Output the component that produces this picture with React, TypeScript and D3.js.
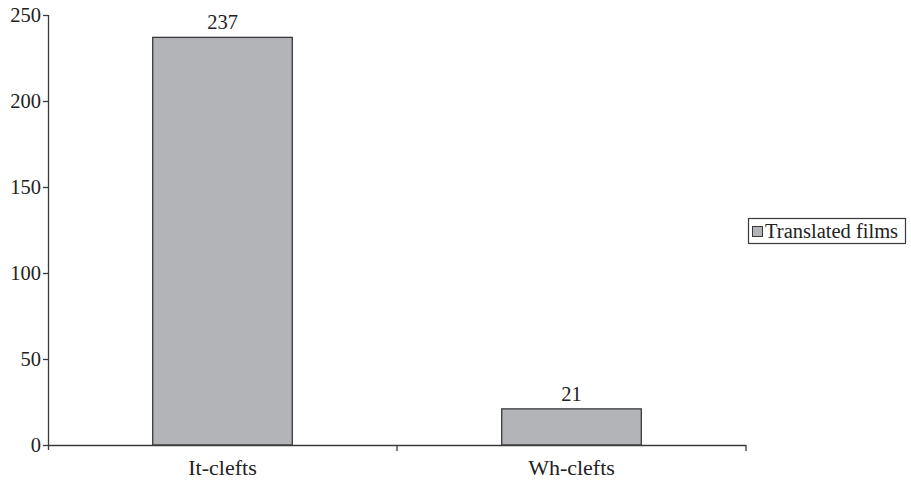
import React from "react";
import * as d3 from "d3";

const categories = ["It-clefts", "Wh-clefts"];
const values = [237, 21];
const seriesName = "Translated films";
const yTicks = [0, 50, 100, 150, 200, 250];

const W = 911;
const H = 484;
const FONT = "'Liberation Serif', 'Times New Roman', serif";
const FILL = "#b3b4b8";
const INK = "#3a3a3a";

export default function App() {
  const x = d3.scaleBand<string>().domain(categories).range([48, 746]);
  const y = d3.scaleLinear().domain([0, 250]).range([445, 15]);
  const barW = x.bandwidth() * 0.4;

  return (
    <svg
      width={W}
      height={H}
      style={{ position: "absolute", left: 0, top: 0, background: "#fff" }}
      fontFamily={FONT}
    >
      {/* y axis */}
      <line x1={48.5} x2={48.5} y1={y(250)} y2={y(0) + 5} stroke={INK} strokeWidth={1.3} />
      {yTicks.map((t) => (
        <g key={t}>
          <line x1={43} x2={48.5} y1={y(t) + 0.5} y2={y(t) + 0.5} stroke={INK} strokeWidth={1.3} />
          <text x={41} y={y(t)} dy="0.35em" textAnchor="end" fontSize={20.5} fill="#222">
            {t}
          </text>
        </g>
      ))}

      {/* bars */}
      {categories.map((c, i) => {
        const cx = (x(c) ?? 0) + x.bandwidth() / 2;
        return (
          <g key={c}>
            <rect
              x={cx - barW / 2}
              y={y(values[i])}
              width={barW}
              height={y(0) - y(values[i])}
              fill={FILL}
              stroke={INK}
              strokeWidth={1.3}
            />
            <text x={cx} y={y(values[i]) - 8} textAnchor="middle" fontSize={20.5} fill="#222">
              {values[i]}
            </text>
            <text x={cx} y={475} textAnchor="middle" fontSize={22} fill="#222">
              {c}
            </text>
          </g>
        );
      })}

      {/* x axis */}
      <line x1={48} x2={746} y1={y(0) + 0.5} y2={y(0) + 0.5} stroke={INK} strokeWidth={1.3} />
      {categories.map((c) => (
        <line
          key={c}
          x1={(x(c) ?? 0) + x.bandwidth()}
          x2={(x(c) ?? 0) + x.bandwidth()}
          y1={y(0)}
          y2={y(0) + 6}
          stroke={INK}
          strokeWidth={1.3}
        />
      ))}

      {/* legend */}
      <rect x={748.5} y={218.5} width={157} height={25} fill="#fff" stroke={INK} strokeWidth={1.2} />
      <rect x={752.5} y={226.5} width={10} height={10} fill={FILL} stroke={INK} strokeWidth={1} />
      <text x={765} y={238} fontSize={20.5} fill="#222">
        {seriesName}
      </text>
    </svg>
  );
}
